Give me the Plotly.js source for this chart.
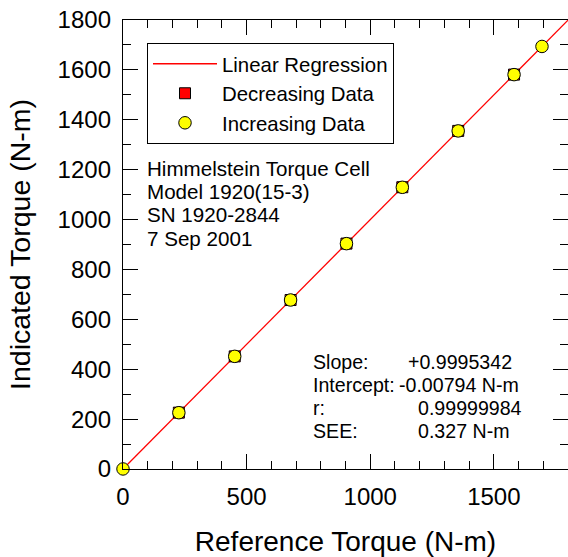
<!DOCTYPE html>
<html>
<head>
<meta charset="utf-8">
<script src="https://cdn.plot.ly/plotly-3.0.1.min.js"></script>
<style>html,body{margin:0;padding:0;background:#fff;}#chart{width:568px;height:557px;}</style>
</head>
<body>
<div id="chart"></div>
<script>
// Reference torque (N-m) and indicated torque (N-m)
var refInc = [0, 225.97, 451.94, 677.91, 903.88, 1129.85, 1355.82, 1581.79, 1694.77];
var indInc = [0.2, 225.7, 451.6, 677.6, 903.4, 1129.3, 1355.3, 1581.0, 1694.0];
var refDec = [1581.79, 1355.82, 1129.85, 903.88, 677.91, 451.94, 225.97, 0];
var indDec = [1581.2, 1355.4, 1129.6, 903.6, 677.4, 451.5, 225.9, -0.3];
// Linear regression endpoints
var lineX = [0, 1800];
var lineY = [-0.008, 1799.2];
// Text blocks
var infoLines = ["Himmelstein Torque Cell", "Model 1920(15-3)", "SN 1920-2844", "7 Sep 2001"];
var statLabels = ["Slope:", "Intercept:", "r:", "SEE:"];
var statValues = ["+0.9995342", "-0.00794 N-m", "0.99999984", "0.327 N-m"];

var FONT = 'Arial, "Liberation Sans", sans-serif';

var traces = [
  {x: lineX, y: lineY, mode: 'lines', name: 'Linear Regression',
   line: {color: '#ff0000', width: 1.3}, cliponaxis: true},
  {x: refDec, y: indDec, mode: 'markers', name: 'Decreasing Data',
   marker: {symbol: 'square', size: 11, color: '#ff0000', line: {color: '#000', width: 1}}, cliponaxis: false},
  {x: refInc, y: indInc, mode: 'markers', name: 'Increasing Data',
   marker: {symbol: 'circle', size: 12.5, color: '#ffff00', line: {color: '#000', width: 1}}, cliponaxis: false}
];

var W = 445, H = 449, L = 123, T = 20;
function px(x){ return (x - L) / W; }
function py(y){ return (T + H - y) / H; }

var annotations = [];
var infoY = [168, 192, 215, 238];
infoLines.forEach(function(t, i){
  annotations.push({xref:'paper', yref:'paper', x: px(145), y: py(infoY[i]), xanchor:'left', yanchor:'middle',
    text: t, showarrow:false, font:{family:FONT, size:20.6, color:'#000'}});
});
var statY = [362, 385, 408, 431];
var valX = [406, 397, 416, 416];
statLabels.forEach(function(t, i){
  annotations.push({xref:'paper', yref:'paper', x: px(311), y: py(statY[i]), xanchor:'left', yanchor:'middle',
    text: t, showarrow:false, font:{family:FONT, size:19.6, color:'#000'}});
  annotations.push({xref:'paper', yref:'paper', x: px(valX[i]), y: py(statY[i]), xanchor:'left', yanchor:'middle',
    text: statValues[i], showarrow:false, font:{family:FONT, size:19.6, color:'#000'}});
});

var axisCommon = {
  showgrid: false, zeroline: false, showline: true, linecolor: '#000', linewidth: 1.2,
  mirror: 'allticks', ticks: 'inside', ticklen: 15, tickwidth: 1, tickcolor: '#000',
  tickfont: {family: FONT, size: 24, color: '#000'},
  minor: {ticks: 'inside', ticklen: 8, tickwidth: 1, tickcolor: '#000', showgrid: false}
};

var layout = {
  width: 568, height: 557,
  margin: {l: L, r: 0, t: T, b: 88},
  paper_bgcolor: '#fff', plot_bgcolor: '#fff',
  font: {family: FONT, color: '#000'},
  showlegend: true,
  legend: {x: px(147), y: py(43), xanchor: 'left', yanchor: 'top',
    bordercolor: '#000', borderwidth: 1, bgcolor: '#fff',
    font: {family: FONT, size: 20.4, color: '#000'}, itemwidth: 64, traceorder: 'normal'},
  xaxis: Object.assign({}, axisCommon, {
    range: [0, 1800], tickvals: [0, 500, 1000, 1500], ticktext: ['0','500','1000','1500'],
    minor: Object.assign({}, axisCommon.minor, {dtick: 100, tick0: 0}),
    ticklabelstandoff: 6,
    title: {text: 'Reference Torque (N-m)', font: {family: FONT, size: 28, color: '#000'}, standoff: 28}
  }),
  yaxis: Object.assign({}, axisCommon, {
    range: [0, 1800], dtick: 200, tick0: 0,
    minor: Object.assign({}, axisCommon.minor, {dtick: 100, tick0: 0}),
    ticklabelstandoff: 6,
    title: {text: 'Indicated Torque (N-m)', font: {family: FONT, size: 28.5, color: '#000'}, standoff: 18}
  }),
  annotations: annotations
};

Plotly.newPlot('chart', traces, layout, {displayModeBar: false, staticPlot: true});
</script>
</body>
</html>
